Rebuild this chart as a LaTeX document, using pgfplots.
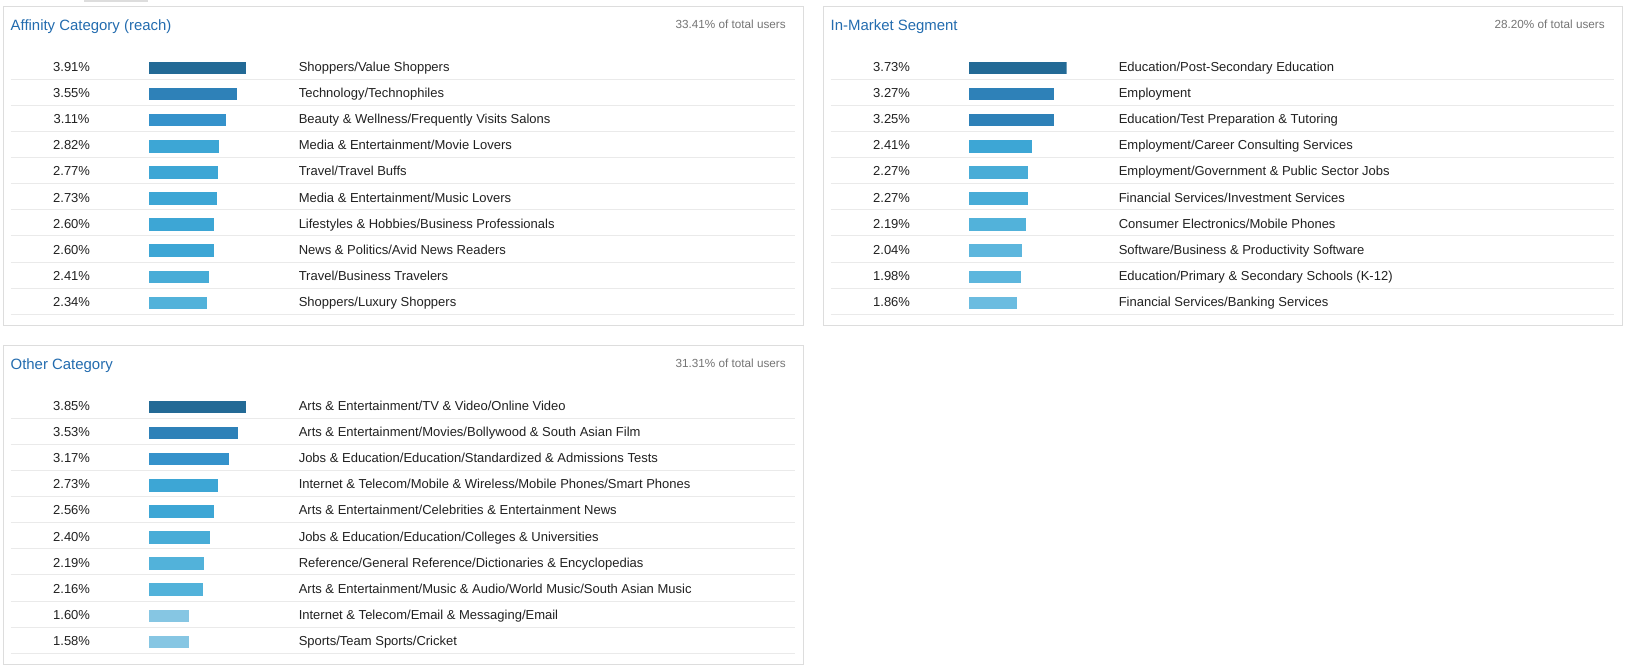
\documentclass[border=0pt]{standalone}
\usepackage{pgfplots}
\pgfplotsset{compat=1.18}
\usepackage{fontspec}
\setmainfont{Liberation Sans}
\definecolor{cA}{RGB}{35,106,150}
\definecolor{cB}{RGB}{46,129,184}
\definecolor{cC}{RGB}{53,146,203}
\definecolor{cD}{RGB}{61,166,213}
\definecolor{cE}{RGB}{72,172,215}
\definecolor{cF}{RGB}{82,178,218}
\definecolor{cG}{RGB}{93,182,221}
\definecolor{cH}{RGB}{107,188,224}
\definecolor{cI}{RGB}{134,198,227}
\definecolor{titleblue}{RGB}{35,108,175}
\definecolor{graytxt}{RGB}{117,117,117}
\definecolor{bordercol}{RGB}{221,221,221}
\definecolor{sepcol}{RGB}{234,234,234}
\definecolor{rowtxt}{RGB}{33,33,33}
\newcommand\titlefont{\fontsize{11.2pt}{13pt}\selectfont}
\newcommand\smallfont{\fontsize{8.8pt}{10pt}\selectfont}
\newcommand\rowfont{\fontsize{9.75pt}{11pt}\selectfont}
% #1 dx, #2 dy, #3 title, #4 total, #5 right edge
\newcommand\panelbox[5]{%
  \draw[bordercol, line width=0.75pt] (#1+3.5,-#2-6) rectangle (#1+#5,-#2-325);
  \node[anchor=base west, text=titleblue, font=\titlefont, inner sep=0pt] at (#1+10.4,-#2-30) {#3};
  \node[anchor=base east, text=graytxt, font=\smallfont, inner sep=0pt] at (#1+#5-17,-#2-28) {#4};
  \foreach \k in {0,...,9} {\draw[sepcol, line width=0.75pt] (#1+10.5,-#2-79.3-26.1*\k) -- (#1+#5-8,-#2-79.3-26.1*\k);}
}
% #1 dx, #2 dy, #3 row, #4 pct, #5 label
\newcommand\rowtext[5]{%
  \node[anchor=base, text=rowtxt, font=\rowfont, inner sep=0pt] at (#1+71.6,-#2-71.5-26.1*#3+26.1) {#4};
  \node[anchor=base west, text=rowtxt, font=\rowfont, inner sep=0pt] at (#1+298.5,-#2-71.5-26.1*#3+26.1) {#5};
}
\pgfplotsset{panelaxis/.style={anchor=north west, scale only axis, width=73.5pt, height=195.75pt,
  xmin=0, ymin=0.5, ymax=10.5, y dir=reverse, hide axis,
  every axis plot/.append style={xbar, bar width=9.4pt, bar shift=0pt, draw=none}}}
\begin{document}
\begin{tikzpicture}[x=0.75pt,y=0.75pt]
\fill[white] (0,0) rectangle (1629,-668);
\fill[bordercol] (84,0) rectangle (148,-1.5);
% Panel 1
\panelbox{0}{0}{Affinity Category (reach)}{33.41\% of total users}{803}
\rowtext{0}{0}{1}{3.91\%}{Shoppers/Value Shoppers}
\rowtext{0}{0}{2}{3.55\%}{Technology/Technophiles}
\rowtext{0}{0}{3}{3.11\%}{Beauty \& Wellness/Frequently Visits Salons}
\rowtext{0}{0}{4}{2.82\%}{Media \& Entertainment/Movie Lovers}
\rowtext{0}{0}{5}{2.77\%}{Travel/Travel Buffs}
\rowtext{0}{0}{6}{2.73\%}{Media \& Entertainment/Music Lovers}
\rowtext{0}{0}{7}{2.60\%}{Lifestyles \& Hobbies/Business Professionals}
\rowtext{0}{0}{8}{2.60\%}{News \& Politics/Avid News Readers}
\rowtext{0}{0}{9}{2.41\%}{Travel/Business Travelers}
\rowtext{0}{0}{10}{2.34\%}{Shoppers/Luxury Shoppers}
\begin{axis}[panelaxis, at={(111.375pt,-41.2125pt)}, xmax=3.91]
\addplot[fill=cA] coordinates {(3.91,1)};
\addplot[fill=cB] coordinates {(3.55,2)};
\addplot[fill=cC] coordinates {(3.11,3)};
\addplot[fill=cD] coordinates {(2.82,4)};
\addplot[fill=cD] coordinates {(2.77,5)};
\addplot[fill=cD] coordinates {(2.73,6)};
\addplot[fill=cD] coordinates {(2.60,7)};
\addplot[fill=cD] coordinates {(2.60,8)};
\addplot[fill=cE] coordinates {(2.41,9)};
\addplot[fill=cF] coordinates {(2.34,10)};
\end{axis}
% Panel 2
\panelbox{820}{0}{In-Market Segment}{28.20\% of total users}{802}
\rowtext{820}{0}{1}{3.73\%}{Education/Post-Secondary Education}
\rowtext{820}{0}{2}{3.27\%}{Employment}
\rowtext{820}{0}{3}{3.25\%}{Education/Test Preparation \& Tutoring}
\rowtext{820}{0}{4}{2.41\%}{Employment/Career Consulting Services}
\rowtext{820}{0}{5}{2.27\%}{Employment/Government \& Public Sector Jobs}
\rowtext{820}{0}{6}{2.27\%}{Financial Services/Investment Services}
\rowtext{820}{0}{7}{2.19\%}{Consumer Electronics/Mobile Phones}
\rowtext{820}{0}{8}{2.04\%}{Software/Business \& Productivity Software}
\rowtext{820}{0}{9}{1.98\%}{Education/Primary \& Secondary Schools (K-12)}
\rowtext{820}{0}{10}{1.86\%}{Financial Services/Banking Services}
\begin{axis}[panelaxis, at={(726.375pt,-41.2125pt)}, xmax=3.73]
\addplot[fill=cA] coordinates {(3.73,1)};
\addplot[fill=cB] coordinates {(3.27,2)};
\addplot[fill=cB] coordinates {(3.25,3)};
\addplot[fill=cD] coordinates {(2.41,4)};
\addplot[fill=cE] coordinates {(2.27,5)};
\addplot[fill=cE] coordinates {(2.27,6)};
\addplot[fill=cF] coordinates {(2.19,7)};
\addplot[fill=cG] coordinates {(2.04,8)};
\addplot[fill=cG] coordinates {(1.98,9)};
\addplot[fill=cH] coordinates {(1.86,10)};
\end{axis}
% Panel 3
\panelbox{0}{339}{Other Category}{31.31\% of total users}{803}
\rowtext{0}{339}{1}{3.85\%}{Arts \& Entertainment/TV \& Video/Online Video}
\rowtext{0}{339}{2}{3.53\%}{Arts \& Entertainment/Movies/Bollywood \& South Asian Film}
\rowtext{0}{339}{3}{3.17\%}{Jobs \& Education/Education/Standardized \& Admissions Tests}
\rowtext{0}{339}{4}{2.73\%}{Internet \& Telecom/Mobile \& Wireless/Mobile Phones/Smart Phones}
\rowtext{0}{339}{5}{2.56\%}{Arts \& Entertainment/Celebrities \& Entertainment News}
\rowtext{0}{339}{6}{2.40\%}{Jobs \& Education/Education/Colleges \& Universities}
\rowtext{0}{339}{7}{2.19\%}{Reference/General Reference/Dictionaries \& Encyclopedias}
\rowtext{0}{339}{8}{2.16\%}{Arts \& Entertainment/Music \& Audio/World Music/South Asian Music}
\rowtext{0}{339}{9}{1.60\%}{Internet \& Telecom/Email \& Messaging/Email}
\rowtext{0}{339}{10}{1.58\%}{Sports/Team Sports/Cricket}
\begin{axis}[panelaxis, at={(111.375pt,-295.4625pt)}, xmax=3.85]
\addplot[fill=cA] coordinates {(3.85,1)};
\addplot[fill=cB] coordinates {(3.53,2)};
\addplot[fill=cC] coordinates {(3.17,3)};
\addplot[fill=cD] coordinates {(2.73,4)};
\addplot[fill=cD] coordinates {(2.56,5)};
\addplot[fill=cE] coordinates {(2.40,6)};
\addplot[fill=cF] coordinates {(2.19,7)};
\addplot[fill=cF] coordinates {(2.16,8)};
\addplot[fill=cI] coordinates {(1.60,9)};
\addplot[fill=cI] coordinates {(1.58,10)};
\end{axis}
\end{tikzpicture}
\end{document}
